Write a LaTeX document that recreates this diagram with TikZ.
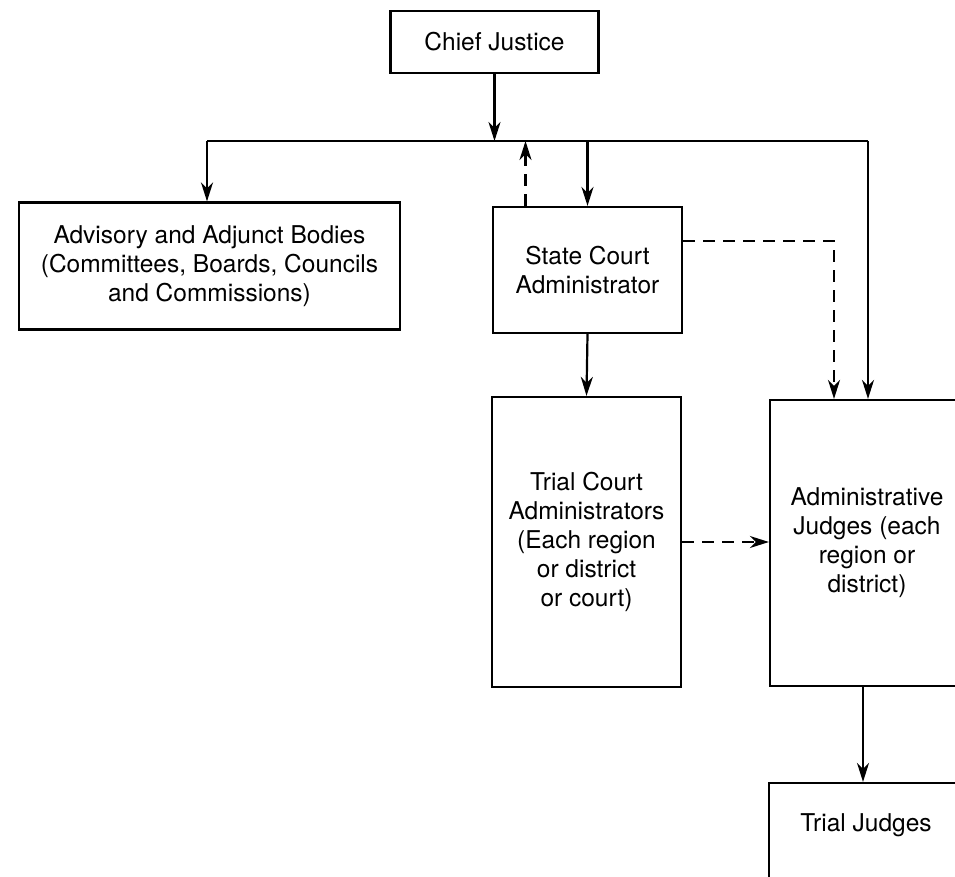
\documentclass[tikz,border=0pt]{standalone}
\usepackage{fontspec}
\setmainfont{TeX Gyre Heros}
\usetikzlibrary{arrows.meta}
\begin{document}
\begin{tikzpicture}[x=1pt,y=-1pt,
  box/.style={draw,line width=2.2pt,rectangle,inner sep=0pt,align=center,
    font=\fontsize{24.5}{29}\selectfont},
  arr/.style={line width=2.2pt,-{Stealth[length=19pt,width=12pt,inset=6pt]}},
  dsh/.style={dash pattern=on 12pt off 8pt}]
\useasboundingbox (0,0) rectangle (955,877);
\clip (0,0) rectangle (955,877);
\node[box,minimum width=208pt,minimum height=62pt] (CJ) at (494.5,42) {Chief Justice};
\node[box,minimum width=381pt,minimum height=127pt] (Adv) at (209.5,266)
  {Advisory and Adjunct Bodies\\(Committees, Boards, Councils\\and Commissions)};
\node[box,minimum width=189pt,minimum height=126pt] (SCA) at (587.5,270)
  {State Court\\Administrator};
\node[box,minimum width=189pt,minimum height=290pt] (TCA) at (586.5,542)
  {Trial Court\\Administrators\\(Each region\\or district\\or court)};
\node[box,minimum width=194pt,minimum height=286pt] (AJ) at (867,543)
  {Administrative\\Judges (each\\region or\\district)};
\node[box,minimum width=194pt,minimum height=130pt] (TJ) at (866,848) {};
\node[font=\fontsize{24.5}{29}\selectfont,inner sep=0pt] (TJt) at (866,825) {Trial Judges};
\coordinate (busL) at (207,141);
\coordinate (busR) at (868,141);
\coordinate (dj) at (834,241);
\draw[line width=2.2pt] (busL) -- (busR);
\draw[arr] (CJ.south) -- (CJ.south |- busL);
\draw[arr] (busL) -- (busL |- Adv.north);
\draw[arr] (SCA.north |- busL) -- (SCA.north);
\draw[arr,dsh] ([xshift=-62pt]SCA.north) -- ([xshift=-62pt]SCA.north |- busL);
\draw[arr] (busR) -- (busR |- AJ.north);
\draw[arr,dsh] (SCA.east |- dj) -- (dj) -- (dj |- AJ.north);
\draw[arr] (SCA.south) -- (TCA.north);
\draw[arr,dsh] (TCA.east) -- (TCA.east -| AJ.west);
\draw[arr] ([xshift=-4pt]AJ.south) -- ([xshift=-4pt]AJ.south |- TJ.north);
\end{tikzpicture}
\end{document}
